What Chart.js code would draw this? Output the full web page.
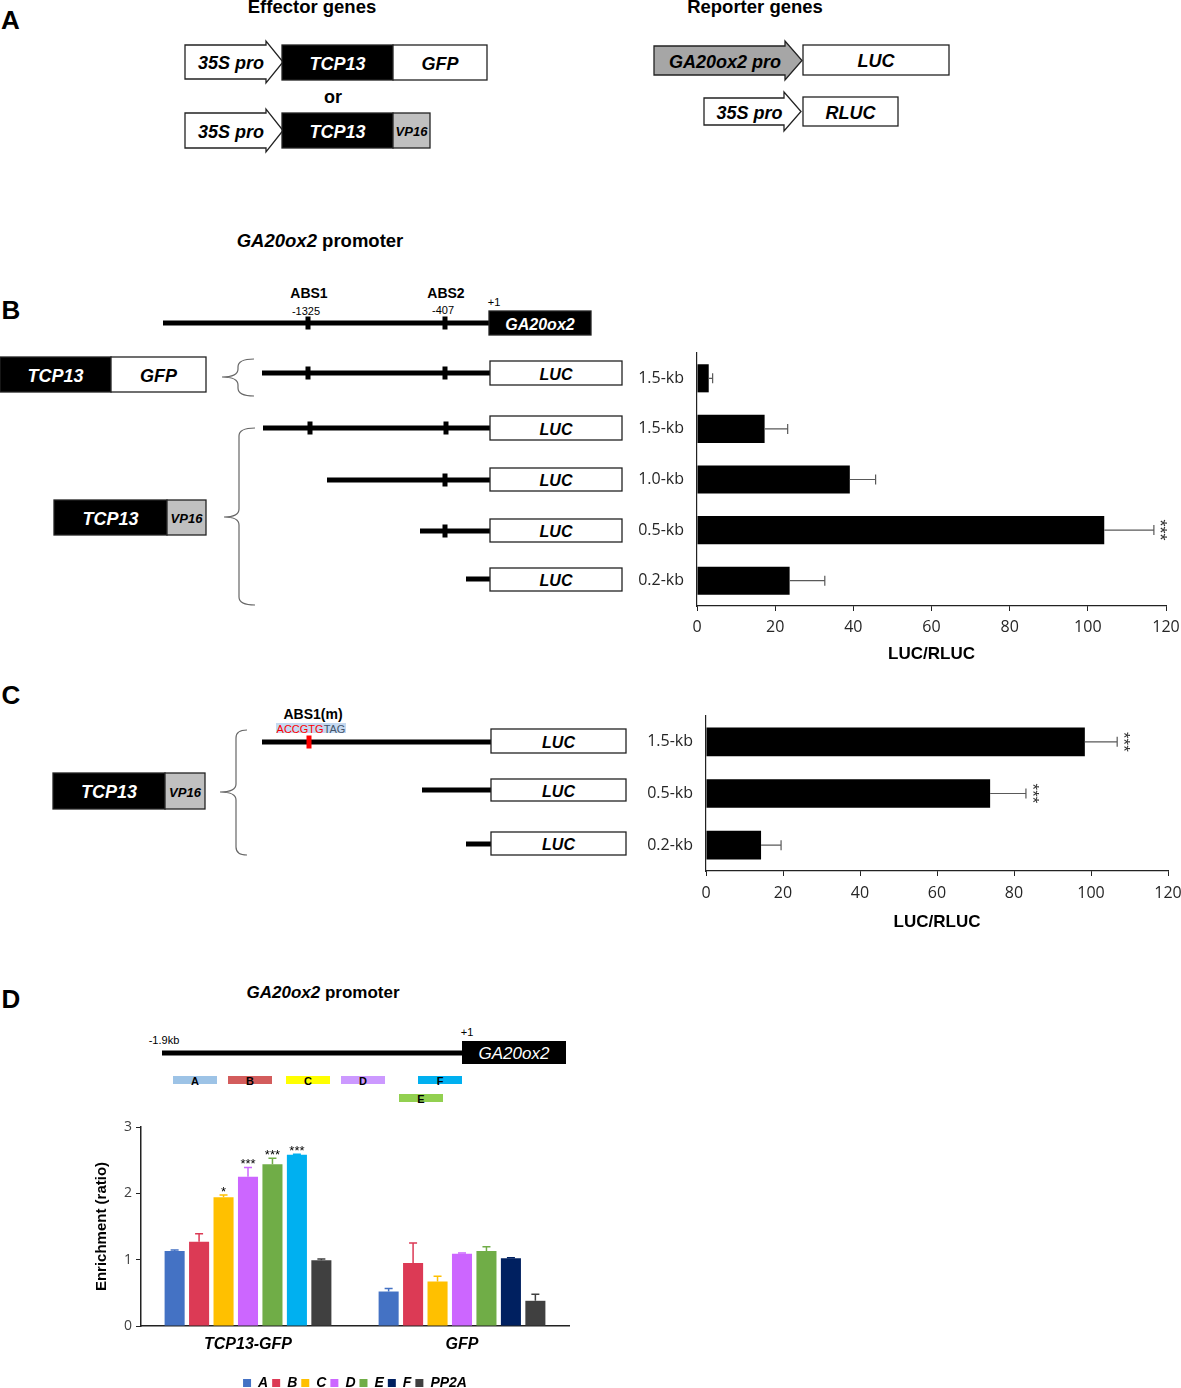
<!DOCTYPE html>
<html>
<head>
<meta charset="utf-8">
<script src="https://cdn.jsdelivr.net/npm/chart.js@4.4.1/dist/chart.umd.min.js"></script>
<style>
  body { margin: 0; background: #fff; }
  #page { position: relative; width: 1181px; height: 1388px; overflow: hidden; font-family: "Liberation Sans", Arial, sans-serif; }
  #diag { position: absolute; left: 0; top: 0; }
  canvas { position: absolute; }
</style>
</head>
<body>
<div id="page">
  <svg id="diag" width="1181" height="1388" font-family="Liberation Sans, Arial, sans-serif"></svg>
  <canvas id="chartB" width="561" height="327" style="left:620px;top:343px"></canvas>
  <canvas id="chartC" width="561" height="232" style="left:620px;top:706px"></canvas>
  <canvas id="chartD" width="502" height="290" style="left:89px;top:1110px"></canvas>
</div>
<script>
// ---- data: panel B (TCP13-GFP / TCP13-VP16 on promoter deletions)
var catsB   = ['1.5-kb', '1.5-kb', '1.0-kb', '0.5-kb', '0.2-kb'];
var lucB    = [3.0, 17.3, 39.1, 104.2, 23.7];
var lucErrB = [1.0, 5.9, 6.6, 12.7, 9.0];
var sigB    = ['', '', '', '***', ''];

// ---- data: panel C (ABS1 mutated)
var catsC   = ['1.5-kb', '0.5-kb', '0.2-kb'];
var lucC    = [98.4, 73.8, 14.3];
var lucErrC = [8.4, 9.3, 5.2];
var sigC    = ['***', '***', ''];

// ---- data: panel D (ChIP enrichment)
var groupsD = ['TCP13-GFP', 'GFP'];
var seriesD = ['A', 'B', 'C', 'D', 'E', 'F', 'PP2A'];
var enrA = [1.13, 0.52], sdA = [0.015, 0.045];
var enrB = [1.27, 0.95], sdB = [0.12, 0.30];
var enrC = [1.94, 0.67], sdC = [0.035, 0.08];
var enrD = [2.25, 1.09], sdD = [0.14, 0.01];
var enrE = [2.44, 1.13], sdE = [0.09, 0.065];
var enrF = [2.58, 1.02], sdF = [0.01, 0.01];
var enrP = [0.99, 0.38], sdP = [0.02, 0.10];
var starsTCP = ['', '', '*', '***', '***', '***', ''];
var colorsD = ['#4472c4', '#dc3a55', '#ffc000', '#cc66ff', '#70ad47', ['#00b0f0', '#002060'], '#404040'];

Chart.defaults.font.family = '"Liberation Sans", Arial, sans-serif';
Chart.defaults.animation = false;

// ---------- diagrams (svg)
var svgNS = 'http://www.w3.org/2000/svg';
var svg = document.getElementById('diag');
function el(tag, attrs, text){
  var e = document.createElementNS(svgNS, tag);
  for (var k in attrs) e.setAttribute(k, attrs[k]);
  if (text != null) e.textContent = text;
  svg.appendChild(e);
  return e;
}
function txt(x, y, s, size, o){
  o = o || {};
  return el('text', {x: x, y: y, 'font-size': size, 'font-weight': o.w || 'bold',
    'font-style': o.i ? 'italic' : 'normal', fill: o.c || '#000',
    'text-anchor': o.a || 'middle', 'dominant-baseline': 'central'}, s);
}
function span(parent, s, attrs){
  var e = document.createElementNS(svgNS, 'tspan');
  for (var k in attrs) e.setAttribute(k, attrs[k]);
  e.textContent = s;
  parent.appendChild(e);
}
function box(x, y, w, h, fill, label, color, size){
  el('rect', {x: x, y: y, width: w, height: h, fill: fill, stroke: '#222', 'stroke-width': 1.3});
  if (label) txt(x + w / 2, y + h / 2 + 1, label, size || 18, {i: true, c: color || '#000'});
}
function arrow(x1, x2, yt, yb, e, fill, label){
  var xb = x2 - 17, yc = (yt + yb) / 2;
  el('path', {d: 'M' + x1 + ' ' + yt + 'L' + xb + ' ' + yt + 'L' + xb + ' ' + (yt - e) + 'L' + x2 + ' ' + yc +
    'L' + xb + ' ' + (yb + e) + 'L' + xb + ' ' + yb + 'L' + x1 + ' ' + yb + 'Z',
    fill: fill, stroke: '#222', 'stroke-width': 1.3});
  txt((x1 + x2) / 2 - 3, yc + 1, label, 18, {i: true});
}
function promoter(x1, x2, y, marks, markColor){
  el('rect', {x: x1, y: y - 2.5, width: x2 - x1, height: 5, fill: '#000'});
  marks.forEach(function(m){
    el('rect', {x: m - 2.5, y: y - 6.5, width: 5, height: 13, fill: markColor || '#000'});
  });
}
function brace(xr, y1, y2, xs, xt, ym){
  var r = 8;
  var d = 'M' + xr + ' ' + y1 + ' Q' + xs + ' ' + y1 + ' ' + xs + ' ' + (y1 + r) +
    ' L' + xs + ' ' + (ym - r) + ' Q' + xs + ' ' + ym + ' ' + xt + ' ' + ym +
    ' Q' + xs + ' ' + ym + ' ' + xs + ' ' + (ym + r) + ' L' + xs + ' ' + (y2 - r) +
    ' Q' + xs + ' ' + y2 + ' ' + xr + ' ' + y2;
  el('path', {d: d, fill: 'none', stroke: '#666', 'stroke-width': 1.2});
}
function luc(x, w, y, h){ box(x, y, w, h, '#fff', 'LUC', '#000', 16); }

// panel A
txt(1, 20, 'A', 26, {a: 'start'});
txt(312, 6, 'Effector genes', 18.5);
txt(755, 6, 'Reporter genes', 18.5);
arrow(185, 283, 45, 79, 4, '#fff', '35S pro');
box(282, 45, 111, 35, '#000', 'TCP13', '#fff');
box(393, 45, 94, 35, '#fff', 'GFP');
txt(333, 96.5, 'or', 18);
arrow(185, 283, 113, 148, 4, '#fff', '35S pro');
box(282, 113, 111, 35, '#000', 'TCP13', '#fff');
box(393, 113, 37, 35, '#c0c0c0', 'VP16', '#000', 13);
arrow(654, 802, 46, 75, 5, '#a6a6a6', 'GA20ox2 pro');
box(803, 45, 146, 30, '#fff', 'LUC');
arrow(704, 801, 98, 125, 6, '#fff', '35S pro');
box(803, 97, 95, 29, '#fff', 'RLUC');

// panel B
var t = txt(320, 240, '', 18.5);
span(t, 'GA20ox2', {'font-style': 'italic'});
span(t, ' promoter', {});
txt(11, 310, 'B', 26);
txt(309, 293, 'ABS1', 14);
txt(306, 311, '-1325', 11, {w: 'normal'});
txt(446, 293, 'ABS2', 14);
txt(443, 310, '-407', 11, {w: 'normal'});
txt(494, 302, '+1', 11, {w: 'normal'});
promoter(163, 490, 323, [308, 445]);
box(489, 311, 102, 24, '#000', 'GA20ox2', '#fff', 16);

box(0, 357, 111, 35, '#000', 'TCP13', '#fff');
box(111, 357, 95, 35, '#fff', 'GFP');
brace(254, 359, 396, 238, 222, 377);
promoter(262, 490, 373, [308, 445]); luc(490, 132, 361, 24);
promoter(263, 490, 428, [310, 446]); luc(490, 132, 416, 24);
promoter(327, 490, 480, [445]);      luc(490, 132, 468, 23);
promoter(420, 490, 531, [445]);      luc(490, 132, 519, 23);
promoter(466, 490, 579, []);         luc(490, 132, 568, 23);
brace(255, 428, 605, 239, 224, 517);
box(54, 500, 113, 35, '#000', 'TCP13', '#fff');
box(167, 500, 39, 35, '#c0c0c0', 'VP16', '#000', 13);

// panel C
txt(11, 695, 'C', 26);
txt(313, 714, 'ABS1(m)', 14);
el('rect', {x: 276, y: 723, width: 70, height: 10, fill: '#c5d9f1'});
var tq = txt(311, 728.5, '', 11, {w: 'normal'});
span(tq, 'ACCGTG', {fill: '#ff0000'});
span(tq, 'TAG', {fill: '#44546a'});
promoter(262, 491, 742, [309], '#ff0000'); luc(491, 135, 729, 24);
promoter(422, 491, 790, []);               luc(491, 135, 779, 22);
promoter(466, 491, 844, []);               luc(491, 135, 832, 23);
brace(247, 730, 855, 236, 220, 792);
box(53, 773, 112, 36, '#000', 'TCP13', '#fff');
box(165, 773, 40, 36, '#c0c0c0', 'VP16', '#000', 13);

// panel D
txt(11, 999, 'D', 26);
var td = txt(323, 992, '', 17);
span(td, 'GA20ox2', {'font-style': 'italic'});
span(td, ' promoter', {});
txt(164, 1040, '-1.9kb', 11, {w: 'normal'});
txt(467, 1032, '+1', 11, {w: 'normal'});
el('rect', {x: 162, y: 1050.5, width: 301, height: 5, fill: '#000'});
el('rect', {x: 462, y: 1041, width: 104, height: 23, fill: '#000'});
txt(514, 1053, 'GA20ox2', 17, {w: 'normal', i: true, c: '#fff'});
[['A', 173, 1076, '#9dc3e6'], ['B', 228, 1076, '#d35c5c'], ['C', 286, 1076, '#ffff00'],
 ['D', 341, 1076, '#cc99ff'], ['F', 418, 1076, '#00b0f0'], ['E', 399, 1094, '#92d050']].forEach(function(p){
  el('rect', {x: p[1], y: p[2], width: 44, height: 8, fill: p[3]});
  txt(p[1] + 22, p[2] + 4.5, p[0], 11);
});

// ---------- chart helpers
function hErrors(errs, sigs, starSize, starDx){
  return {
    id: 'hErrors',
    afterDatasetsDraw: function(chart){
      var ctx = chart.ctx, xs = chart.scales.x;
      var vals = chart.data.datasets[0].data;
      ctx.save();
      chart.getDatasetMeta(0).data.forEach(function(bar, i){
        var x1 = xs.getPixelForValue(vals[i] + errs[i]), y = bar.y;
        ctx.strokeStyle = '#595959'; ctx.lineWidth = 1.2;
        ctx.beginPath();
        ctx.moveTo(bar.x, y); ctx.lineTo(x1, y);
        ctx.moveTo(x1, y - 5); ctx.lineTo(x1, y + 5);
        ctx.stroke();
        if (sigs[i]){
          ctx.save();
          ctx.translate(x1 + starDx, y);
          ctx.rotate(Math.PI / 2);
          ctx.fillStyle = '#333';
          ctx.font = starSize + 'px "Liberation Sans"';
          ctx.textAlign = 'center'; ctx.textBaseline = 'middle';
          ctx.fillText(sigs[i], 0, 0);
          ctx.restore();
        }
      });
      ctx.restore();
    }
  };
}

function hChart(id, cats, vals, errs, sigs, yW, xH, pad, tickPad, titlePad, starSize, starDx){
  return new Chart(document.getElementById(id), {
    type: 'bar',
    data: { labels: cats, datasets: [{ data: vals, backgroundColor: '#000', barPercentage: 0.555, categoryPercentage: 1 }] },
    options: {
      indexAxis: 'y',
      responsive: false,
      devicePixelRatio: 1,
      layout: { padding: pad },
      plugins: { legend: { display: false }, tooltip: { enabled: false } },
      scales: {
        x: {
          min: 0, max: 120,
          ticks: { stepSize: 20, color: '#262626', padding: tickPad, font: { family: '"Open Sans"', size: 16 }, maxRotation: 0 },
          grid: { drawOnChartArea: false, color: '#222', tickLength: 5 },
          border: { color: '#222', width: 1.2 },
          title: { display: true, text: 'LUC/RLUC', color: '#000', font: { size: 17, weight: 'bold' }, padding: { top: 0, bottom: titlePad } },
          afterFit: function(s){ s.height = xH; s.paddingLeft = 0; s.paddingRight = 0; }
        },
        y: {
          ticks: { color: '#262626', padding: 13, font: { family: '"Open Sans"', size: 16 } },
          grid: { display: false, drawTicks: false },
          border: { color: '#222', width: 1.2 },
          afterFit: function(s){ s.width = yW; s.paddingTop = 0; s.paddingBottom = 0; }
        }
      }
    },
    plugins: [hErrors(errs, sigs, starSize, starDx)]
  });
}

hChart('chartB', catsB, lucB, lucErrB, sigB, 77, 64, { top: 10, right: 15, left: 0, bottom: 0 }, 7, 5, 18, 5);
hChart('chartC', catsC, lucC, lucErrC, sigC, 86, 67, { top: 10, right: 13, left: 0, bottom: 0 }, 8, 5, 17, 6);

// ---------- panel D grouped bars
var dErrors = {
  id: 'dErrors',
  afterDatasetsDraw: function(chart){
    var ctx = chart.ctx, ys = chart.scales.y;
    ctx.save();
    chart.data.datasets.forEach(function(ds, d){
      chart.getDatasetMeta(d).data.forEach(function(bar, j){
        var top = ys.getPixelForValue(ds.data[j] + ds.sd[j]);
        var col = Array.isArray(ds.backgroundColor) ? ds.backgroundColor[j] : ds.backgroundColor;
        ctx.strokeStyle = col; ctx.lineWidth = 1.5;
        ctx.beginPath();
        ctx.moveTo(bar.x, bar.y); ctx.lineTo(bar.x, top);
        ctx.moveTo(bar.x - 4, top); ctx.lineTo(bar.x + 4, top);
        ctx.stroke();
        if (ds.stars[j]){
          ctx.fillStyle = '#000';
          ctx.font = '13px "Liberation Sans"';
          ctx.textAlign = 'center'; ctx.textBaseline = 'alphabetic';
          ctx.fillText(ds.stars[j], bar.x, top + 1);
        }
      });
    });
    ctx.restore();
  }
};

var enrD_all = [enrA, enrB, enrC, enrD, enrE, enrF, enrP];
var sdD_all  = [sdA, sdB, sdC, sdD, sdE, sdF, sdP];
var datasetsD = seriesD.map(function(name, i){
  return {
    label: name,
    data: enrD_all[i],
    sd: sdD_all[i],
    stars: [starsTCP[i], ''],
    backgroundColor: colorsD[i],
    barPercentage: 0.82,
    categoryPercentage: 0.8
  };
});

new Chart(document.getElementById('chartD'), {
  type: 'bar',
  data: { labels: groupsD, datasets: datasetsD },
  options: {
    responsive: false,
    devicePixelRatio: 1,
    layout: { padding: { top: 17, right: 22, left: 0, bottom: 0 } },
    plugins: {
      tooltip: { enabled: false },
      legend: {
        position: 'bottom',
        fullSize: false,
        labels: {
          boxWidth: 8, boxHeight: 8, padding: 4, color: '#000',
          font: { size: 14, weight: 'bold', style: 'italic' },
          generateLabels: function(chart){
            var items = Chart.defaults.plugins.legend.labels.generateLabels(chart);
            items.forEach(function(it, i){
              var c = colorsD[i];
              if (Array.isArray(c)) c = c[c.length - 1];
              it.fillStyle = c; it.strokeStyle = c; it.lineWidth = 0;
            });
            return items;
          }
        }
      }
    },
    scales: {
      x: {
        ticks: { color: '#000', padding: 1, font: { size: 16, weight: 'bold', style: 'italic' } },
        grid: { display: false },
        border: { color: '#222', width: 1.5 },
        afterFit: function(s){ s.height = 46; s.paddingLeft = 0; s.paddingRight = 0; }
      },
      y: {
        min: 0, max: 3,
        ticks: { stepSize: 1, color: '#404040', padding: 4, font: { family: '"Open Sans"', size: 14 } },
        grid: { drawOnChartArea: false, color: '#222', tickLength: 5 },
        border: { color: '#222', width: 1.5 },
        title: { display: true, text: 'Enrichment (ratio)', color: '#000', font: { size: 15, weight: 'bold' } },
        afterFit: function(s){ s.width = 52; s.paddingTop = 0; s.paddingBottom = 0; }
      }
    }
  },
  plugins: [dErrors]
});
</script>
</body>
</html>
